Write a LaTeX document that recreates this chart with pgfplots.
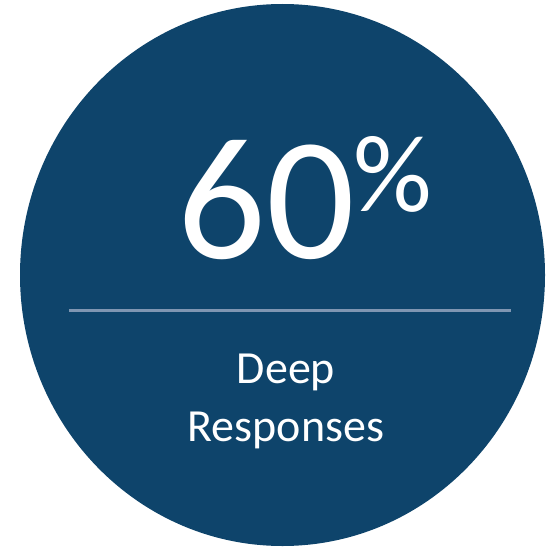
\documentclass[border=0pt]{standalone}
\usepackage{pgfplots}
\pgfplotsset{compat=1.18}
\usepackage{fontspec}
\setmainfont{Carlito}

\definecolor{discblue}{RGB}{14,68,107}
\definecolor{rulegray}{RGB}{127,150,178}

\begin{document}
\begin{tikzpicture}
\begin{axis}[
  width=546bp, height=548bp,
  scale only axis,
  xmin=0, xmax=546,
  ymin=0, ymax=548,
  y dir=reverse,
  hide axis,
  clip=true,
]
% disc
\fill[discblue] (axis cs:282.5,275) ellipse [x radius=262.5bp, y radius=271bp];
% separator
\addplot[rulegray, line width=3bp] coordinates {(69,310.5) (511,310.5)};
% figure and caption
\node[white, anchor=base, inner sep=0pt, font=\fontsize{175bp}{175bp}\selectfont]
  at (axis cs:266,258) {60};
\node[white, anchor=base west, inner sep=0pt, font=\fontsize{110bp}{110bp}\selectfont]
  at (axis cs:353,211) {\%};
\node[white, anchor=base, inner sep=0pt, font=\fontsize{46bp}{46bp}\selectfont]
  at (axis cs:286,383) {Deep};
\node[white, anchor=base, inner sep=0pt, font=\fontsize{46bp}{46bp}\selectfont]
  at (axis cs:286,441) {Responses};
\end{axis}
\pgfresetboundingbox
\path (current axis.south west) rectangle (current axis.north east);
\end{tikzpicture}
\end{document}
